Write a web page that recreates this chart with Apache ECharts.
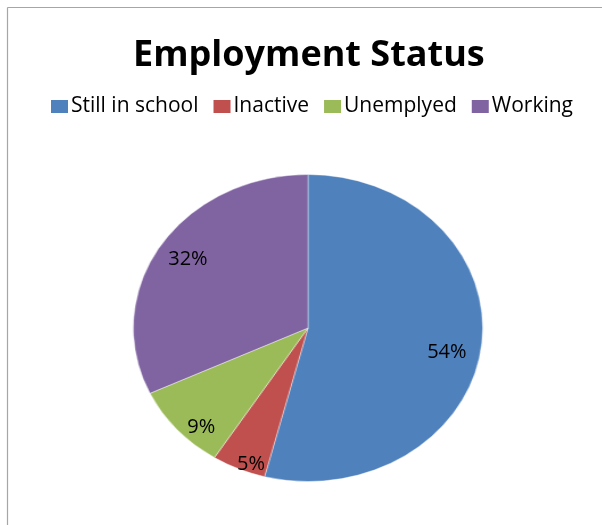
<!DOCTYPE html>
<html>
<head>
<meta charset="utf-8">
<script src="https://cdn.jsdelivr.net/npm/echarts@6/dist/echarts.min.js"></script>
<style>
  html, body { margin: 0; padding: 0; background: #fff; }
  #frame { position: absolute; left: 0; top: 0; width: 602px; height: 525px; }
  /* the pie is drawn as a circle and stretched into an ellipse */
  #pie { position: absolute; left: 148px; top: 167.5px; width: 320px; height: 320px;
         transform: scaleX(1.138); transform-origin: 50% 50%; }
</style>
</head>
<body>
<div id="pie"></div>
<div id="frame"></div>
<script>
// Employment status shares (%)
const categories = ['Still in school', 'Inactive', 'Unemplyed', 'Working'];
const shares = [54, 5, 9, 32];
const palette = ['#4F81BD', '#C0504D', '#9BBB59', '#8064A2'];
const titleText = 'Employment Status';

const pieData = categories.map((name, i) => ({ name: name, value: shares[i] }));
const FONT = '"Open Sans", "Noto Sans", sans-serif';

// Slices (stretched horizontally by the container transform)
const pieChart = echarts.init(document.getElementById('pie'), null, { renderer: 'canvas' });
pieChart.setOption({
  animation: false,
  color: palette,
  legend: { show: false, data: categories },
  series: [{
    type: 'pie',
    center: ['50%', '50%'],
    radius: [0, 153.5],
    startAngle: 90,
    clockwise: true,
    silent: true,
    label: { show: false },
    labelLine: { show: false },
    itemStyle: { borderColor: 'rgba(255,255,255,0.7)', borderWidth: 0.6 },
    emphasis: { disabled: true },
    data: pieData
  }]
});

// Title, legend, frame and the percentage labels
const mainChart = echarts.init(document.getElementById('frame'), null, { renderer: 'canvas' });
mainChart.setOption({
  animation: false,
  color: palette,
  title: {
    text: titleText,
    left: 133,
    top: 38,
    padding: 0,
    textStyle: { fontFamily: FONT, fontWeight: 'bold', fontSize: 36, color: '#000' }
  },
  legend: {
    data: categories,
    left: 51,
    top: 96,
    padding: 0,
    itemWidth: 17,
    itemHeight: 13,
    itemGap: 15,
    icon: 'rect',
    itemStyle: { opacity: 1 },
    textStyle: { fontFamily: FONT, fontSize: 21, color: '#000', padding: [0, 0, 0, -2] }
  },
  graphic: [
    { type: 'line', shape: { x1: 7.5, y1: 7.5, x2: 602, y2: 7.5 },
      style: { stroke: '#a6a6a6', lineWidth: 1.2 }, silent: true },
    { type: 'line', shape: { x1: 7.5, y1: 7.5, x2: 7.5, y2: 525 },
      style: { stroke: '#a6a6a6', lineWidth: 1.2 }, silent: true }
  ],
  series: [{
    type: 'pie',
    center: [308, 327.5],
    radius: [123, 153],
    startAngle: 90,
    clockwise: true,
    silent: true,
    avoidLabelOverlap: false,
    percentPrecision: 0,
    itemStyle: { opacity: 0 },
    label: {
      show: true,
      position: 'inside',
      formatter: '{d}%',
      fontFamily: FONT,
      fontSize: 20,
      color: '#000',
      opacity: 1,
      offset: [-1, 7]
    },
    labelLine: { show: false },
    emphasis: { disabled: true },
    data: pieData
  }]
});

// keep the slices in step with the legend
mainChart.on('legendselectchanged', function (e) {
  pieChart.dispatchAction({ type: e.selected[e.name] ? 'legendSelect' : 'legendUnSelect', name: e.name });
});
</script>
</body>
</html>
